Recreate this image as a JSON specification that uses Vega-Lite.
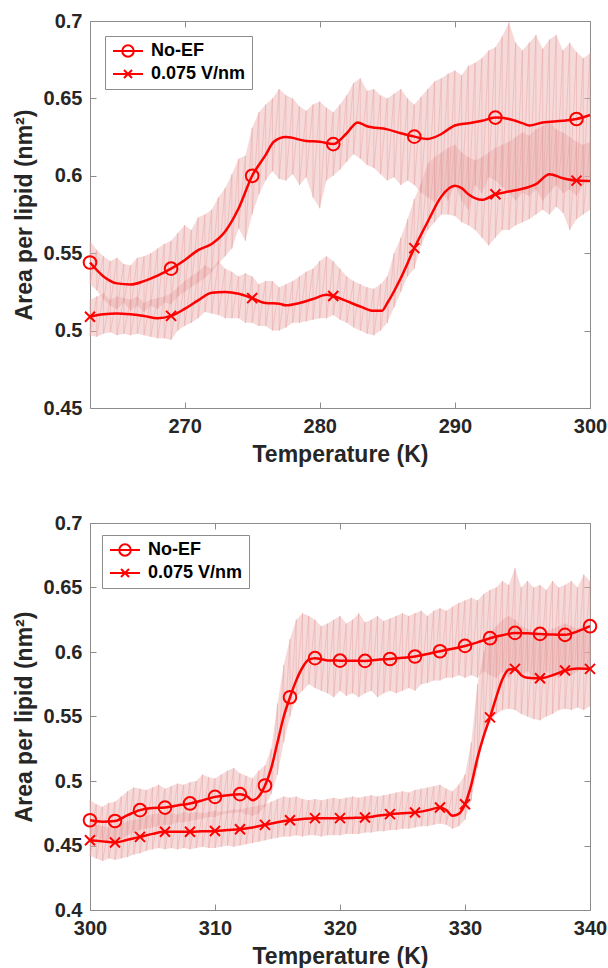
{
"$schema": "https://vega.github.io/schema/vega-lite/v6.json",
"padding": {"left": 12, "top": 10, "right": 5, "bottom": 0},
"spacing": 45,
"config": {
 "font": "Liberation Sans",
 "view": {"stroke": "#8c8c8c", "strokeWidth": 1},
 "axis": {"grid": false, "domain": false, "labelFont": "Liberation Sans", "labelFontSize": 20, "labelFontWeight": "bold", "labelColor": "#262626", "titleFont": "Liberation Sans", "titleFontSize": 23, "titleFontWeight": "bold", "titleColor": "#262626", "tickColor": "#8c8c8c", "tickSize": -6, "labelPadding": 14, "titlePadding": 7},
 "axisX": {"labelFlush": false},
 "legend": {"labelFont": "Liberation Sans", "labelFontSize": 18, "labelFontWeight": "bold", "labelColor": "#000000"}
},
"datasets": {
"noise": [
{"p":1,"s":"a","x":263,"lo":0.530,"hi":0.558},{"p":1,"s":"a","x":263.5,"lo":0.526,"hi":0.552},{"p":1,"s":"a","x":264,"lo":0.520,"hi":0.548},{"p":1,"s":"a","x":264.5,"lo":0.516,"hi":0.545},{"p":1,"s":"a","x":265,"lo":0.514,"hi":0.547},{"p":1,"s":"a","x":265.5,"lo":0.518,"hi":0.543},{"p":1,"s":"a","x":266,"lo":0.513,"hi":0.542},{"p":1,"s":"a","x":266.5,"lo":0.516,"hi":0.547},{"p":1,"s":"a","x":267,"lo":0.512,"hi":0.548},{"p":1,"s":"a","x":267.5,"lo":0.516,"hi":0.550},{"p":1,"s":"a","x":268,"lo":0.514,"hi":0.553},{"p":1,"s":"a","x":268.5,"lo":0.518,"hi":0.556},{"p":1,"s":"a","x":269,"lo":0.517,"hi":0.558},{"p":1,"s":"a","x":269.5,"lo":0.522,"hi":0.563},{"p":1,"s":"a","x":270,"lo":0.525,"hi":0.568},{"p":1,"s":"a","x":270.5,"lo":0.528,"hi":0.565},{"p":1,"s":"a","x":271,"lo":0.531,"hi":0.573},{"p":1,"s":"a","x":271.5,"lo":0.534,"hi":0.575},{"p":1,"s":"a","x":272,"lo":0.538,"hi":0.578},{"p":1,"s":"a","x":272.5,"lo":0.543,"hi":0.586},{"p":1,"s":"a","x":273,"lo":0.548,"hi":0.592},{"p":1,"s":"a","x":273.5,"lo":0.553,"hi":0.601},{"p":1,"s":"a","x":274,"lo":0.566,"hi":0.611},{"p":1,"s":"a","x":274.5,"lo":0.558,"hi":0.613},{"p":1,"s":"a","x":275,"lo":0.575,"hi":0.631},{"p":1,"s":"a","x":275.5,"lo":0.588,"hi":0.641},{"p":1,"s":"a","x":276,"lo":0.597,"hi":0.646},{"p":1,"s":"a","x":276.5,"lo":0.603,"hi":0.650},{"p":1,"s":"a","x":277,"lo":0.598,"hi":0.656},{"p":1,"s":"a","x":277.5,"lo":0.597,"hi":0.652},{"p":1,"s":"a","x":278,"lo":0.601,"hi":0.650},{"p":1,"s":"a","x":278.5,"lo":0.594,"hi":0.645},{"p":1,"s":"a","x":279,"lo":0.599,"hi":0.642},{"p":1,"s":"a","x":279.5,"lo":0.586,"hi":0.646},{"p":1,"s":"a","x":280,"lo":0.579,"hi":0.648},{"p":1,"s":"a","x":280.5,"lo":0.597,"hi":0.644},{"p":1,"s":"a","x":281,"lo":0.600,"hi":0.641},{"p":1,"s":"a","x":281.5,"lo":0.604,"hi":0.646},{"p":1,"s":"a","x":282,"lo":0.609,"hi":0.652},{"p":1,"s":"a","x":282.5,"lo":0.614,"hi":0.660},{"p":1,"s":"a","x":283,"lo":0.611,"hi":0.663},{"p":1,"s":"a","x":283.5,"lo":0.607,"hi":0.655},{"p":1,"s":"a","x":284,"lo":0.605,"hi":0.656},{"p":1,"s":"a","x":284.5,"lo":0.601,"hi":0.652},{"p":1,"s":"a","x":285,"lo":0.597,"hi":0.650},{"p":1,"s":"a","x":285.5,"lo":0.599,"hi":0.653},{"p":1,"s":"a","x":286,"lo":0.594,"hi":0.656},{"p":1,"s":"a","x":286.5,"lo":0.597,"hi":0.650},{"p":1,"s":"a","x":287,"lo":0.594,"hi":0.646},{"p":1,"s":"a","x":287.5,"lo":0.589,"hi":0.651},{"p":1,"s":"a","x":288,"lo":0.586,"hi":0.656},{"p":1,"s":"a","x":288.5,"lo":0.583,"hi":0.661},{"p":1,"s":"a","x":289,"lo":0.589,"hi":0.663},{"p":1,"s":"a","x":289.5,"lo":0.584,"hi":0.666},{"p":1,"s":"a","x":290,"lo":0.594,"hi":0.668},{"p":1,"s":"a","x":290.5,"lo":0.584,"hi":0.665},{"p":1,"s":"a","x":291,"lo":0.578,"hi":0.671},{"p":1,"s":"a","x":291.5,"lo":0.594,"hi":0.673},{"p":1,"s":"a","x":292,"lo":0.589,"hi":0.676},{"p":1,"s":"a","x":292.5,"lo":0.599,"hi":0.681},{"p":1,"s":"a","x":293,"lo":0.597,"hi":0.683},{"p":1,"s":"a","x":293.5,"lo":0.593,"hi":0.690},{"p":1,"s":"a","x":294,"lo":0.589,"hi":0.699},{"p":1,"s":"a","x":294.5,"lo":0.584,"hi":0.686},{"p":1,"s":"a","x":295,"lo":0.589,"hi":0.681},{"p":1,"s":"a","x":295.5,"lo":0.587,"hi":0.686},{"p":1,"s":"a","x":296,"lo":0.591,"hi":0.691},{"p":1,"s":"a","x":296.5,"lo":0.584,"hi":0.682},{"p":1,"s":"a","x":297,"lo":0.589,"hi":0.688},{"p":1,"s":"a","x":297.5,"lo":0.594,"hi":0.691},{"p":1,"s":"a","x":298,"lo":0.589,"hi":0.681},{"p":1,"s":"a","x":298.5,"lo":0.591,"hi":0.686},{"p":1,"s":"a","x":299,"lo":0.587,"hi":0.680},{"p":1,"s":"a","x":299.5,"lo":0.594,"hi":0.676},{"p":1,"s":"a","x":300,"lo":0.599,"hi":0.679},
{"p":1,"s":"b","x":263,"lo":0.497,"hi":0.520},{"p":1,"s":"b","x":263.5,"lo":0.496,"hi":0.522},{"p":1,"s":"b","x":264,"lo":0.498,"hi":0.524},{"p":1,"s":"b","x":264.5,"lo":0.499,"hi":0.520},{"p":1,"s":"b","x":265,"lo":0.497,"hi":0.522},{"p":1,"s":"b","x":265.5,"lo":0.498,"hi":0.521},{"p":1,"s":"b","x":266,"lo":0.497,"hi":0.520},{"p":1,"s":"b","x":266.5,"lo":0.498,"hi":0.522},{"p":1,"s":"b","x":267,"lo":0.497,"hi":0.518},{"p":1,"s":"b","x":267.5,"lo":0.496,"hi":0.520},{"p":1,"s":"b","x":268,"lo":0.495,"hi":0.521},{"p":1,"s":"b","x":268.5,"lo":0.495,"hi":0.522},{"p":1,"s":"b","x":269,"lo":0.494,"hi":0.524},{"p":1,"s":"b","x":269.5,"lo":0.500,"hi":0.528},{"p":1,"s":"b","x":270,"lo":0.503,"hi":0.532},{"p":1,"s":"b","x":270.5,"lo":0.505,"hi":0.535},{"p":1,"s":"b","x":271,"lo":0.508,"hi":0.538},{"p":1,"s":"b","x":271.5,"lo":0.512,"hi":0.542},{"p":1,"s":"b","x":272,"lo":0.511,"hi":0.540},{"p":1,"s":"b","x":272.5,"lo":0.510,"hi":0.545},{"p":1,"s":"b","x":273,"lo":0.508,"hi":0.540},{"p":1,"s":"b","x":273.5,"lo":0.508,"hi":0.538},{"p":1,"s":"b","x":274,"lo":0.508,"hi":0.535},{"p":1,"s":"b","x":274.5,"lo":0.505,"hi":0.537},{"p":1,"s":"b","x":275,"lo":0.505,"hi":0.535},{"p":1,"s":"b","x":275.5,"lo":0.503,"hi":0.530},{"p":1,"s":"b","x":276,"lo":0.503,"hi":0.532},{"p":1,"s":"b","x":276.5,"lo":0.500,"hi":0.532},{"p":1,"s":"b","x":277,"lo":0.500,"hi":0.528},{"p":1,"s":"b","x":277.5,"lo":0.502,"hi":0.530},{"p":1,"s":"b","x":278,"lo":0.505,"hi":0.532},{"p":1,"s":"b","x":278.5,"lo":0.505,"hi":0.535},{"p":1,"s":"b","x":279,"lo":0.506,"hi":0.538},{"p":1,"s":"b","x":279.5,"lo":0.507,"hi":0.540},{"p":1,"s":"b","x":280,"lo":0.508,"hi":0.545},{"p":1,"s":"b","x":280.5,"lo":0.508,"hi":0.548},{"p":1,"s":"b","x":281,"lo":0.510,"hi":0.545},{"p":1,"s":"b","x":281.5,"lo":0.507,"hi":0.540},{"p":1,"s":"b","x":282,"lo":0.505,"hi":0.535},{"p":1,"s":"b","x":282.5,"lo":0.502,"hi":0.532},{"p":1,"s":"b","x":283,"lo":0.500,"hi":0.530},{"p":1,"s":"b","x":283.5,"lo":0.498,"hi":0.528},{"p":1,"s":"b","x":284,"lo":0.497,"hi":0.527},{"p":1,"s":"b","x":284.5,"lo":0.500,"hi":0.530},{"p":1,"s":"b","x":285,"lo":0.505,"hi":0.535},{"p":1,"s":"b","x":285.5,"lo":0.515,"hi":0.550},{"p":1,"s":"b","x":286,"lo":0.525,"hi":0.560},{"p":1,"s":"b","x":286.5,"lo":0.535,"hi":0.572},{"p":1,"s":"b","x":287,"lo":0.540,"hi":0.585},{"p":1,"s":"b","x":287.5,"lo":0.555,"hi":0.595},{"p":1,"s":"b","x":288,"lo":0.565,"hi":0.608},{"p":1,"s":"b","x":288.5,"lo":0.570,"hi":0.612},{"p":1,"s":"b","x":289,"lo":0.575,"hi":0.615},{"p":1,"s":"b","x":289.5,"lo":0.575,"hi":0.618},{"p":1,"s":"b","x":290,"lo":0.574,"hi":0.620},{"p":1,"s":"b","x":290.5,"lo":0.570,"hi":0.615},{"p":1,"s":"b","x":291,"lo":0.568,"hi":0.612},{"p":1,"s":"b","x":291.5,"lo":0.565,"hi":0.610},{"p":1,"s":"b","x":292,"lo":0.560,"hi":0.612},{"p":1,"s":"b","x":292.5,"lo":0.555,"hi":0.615},{"p":1,"s":"b","x":293,"lo":0.560,"hi":0.618},{"p":1,"s":"b","x":293.5,"lo":0.565,"hi":0.620},{"p":1,"s":"b","x":294,"lo":0.565,"hi":0.622},{"p":1,"s":"b","x":294.5,"lo":0.568,"hi":0.625},{"p":1,"s":"b","x":295,"lo":0.570,"hi":0.628},{"p":1,"s":"b","x":295.5,"lo":0.572,"hi":0.626},{"p":1,"s":"b","x":296,"lo":0.575,"hi":0.630},{"p":1,"s":"b","x":296.5,"lo":0.578,"hi":0.632},{"p":1,"s":"b","x":297,"lo":0.575,"hi":0.635},{"p":1,"s":"b","x":297.5,"lo":0.580,"hi":0.630},{"p":1,"s":"b","x":298,"lo":0.576,"hi":0.628},{"p":1,"s":"b","x":298.5,"lo":0.565,"hi":0.625},{"p":1,"s":"b","x":299,"lo":0.572,"hi":0.622},{"p":1,"s":"b","x":299.5,"lo":0.575,"hi":0.620},{"p":1,"s":"b","x":300,"lo":0.578,"hi":0.622},
{"p":2,"s":"a","x":300,"lo":0.455,"hi":0.485},{"p":2,"s":"a","x":300.5,"lo":0.457,"hi":0.482},{"p":2,"s":"a","x":301,"lo":0.452,"hi":0.480},{"p":2,"s":"a","x":301.5,"lo":0.455,"hi":0.483},{"p":2,"s":"a","x":302,"lo":0.453,"hi":0.484},{"p":2,"s":"a","x":302.5,"lo":0.455,"hi":0.488},{"p":2,"s":"a","x":303,"lo":0.458,"hi":0.492},{"p":2,"s":"a","x":303.5,"lo":0.460,"hi":0.495},{"p":2,"s":"a","x":304,"lo":0.462,"hi":0.494},{"p":2,"s":"a","x":304.5,"lo":0.463,"hi":0.493},{"p":2,"s":"a","x":305,"lo":0.464,"hi":0.495},{"p":2,"s":"a","x":305.5,"lo":0.465,"hi":0.497},{"p":2,"s":"a","x":306,"lo":0.466,"hi":0.494},{"p":2,"s":"a","x":306.5,"lo":0.466,"hi":0.496},{"p":2,"s":"a","x":307,"lo":0.468,"hi":0.498},{"p":2,"s":"a","x":307.5,"lo":0.468,"hi":0.497},{"p":2,"s":"a","x":308,"lo":0.469,"hi":0.499},{"p":2,"s":"a","x":308.5,"lo":0.470,"hi":0.500},{"p":2,"s":"a","x":309,"lo":0.471,"hi":0.505},{"p":2,"s":"a","x":309.5,"lo":0.472,"hi":0.503},{"p":2,"s":"a","x":310,"lo":0.472,"hi":0.502},{"p":2,"s":"a","x":310.5,"lo":0.474,"hi":0.505},{"p":2,"s":"a","x":311,"lo":0.475,"hi":0.508},{"p":2,"s":"a","x":311.5,"lo":0.475,"hi":0.510},{"p":2,"s":"a","x":312,"lo":0.476,"hi":0.506},{"p":2,"s":"a","x":312.5,"lo":0.474,"hi":0.504},{"p":2,"s":"a","x":313,"lo":0.473,"hi":0.502},{"p":2,"s":"a","x":313.5,"lo":0.475,"hi":0.508},{"p":2,"s":"a","x":314,"lo":0.480,"hi":0.512},{"p":2,"s":"a","x":314.5,"lo":0.490,"hi":0.525},{"p":2,"s":"a","x":315,"lo":0.505,"hi":0.560},{"p":2,"s":"a","x":315.5,"lo":0.530,"hi":0.590},{"p":2,"s":"a","x":316,"lo":0.550,"hi":0.610},{"p":2,"s":"a","x":316.5,"lo":0.565,"hi":0.625},{"p":2,"s":"a","x":317,"lo":0.570,"hi":0.630},{"p":2,"s":"a","x":317.5,"lo":0.575,"hi":0.628},{"p":2,"s":"a","x":318,"lo":0.572,"hi":0.625},{"p":2,"s":"a","x":318.5,"lo":0.570,"hi":0.620},{"p":2,"s":"a","x":319,"lo":0.568,"hi":0.622},{"p":2,"s":"a","x":319.5,"lo":0.565,"hi":0.625},{"p":2,"s":"a","x":320,"lo":0.570,"hi":0.628},{"p":2,"s":"a","x":320.5,"lo":0.566,"hi":0.622},{"p":2,"s":"a","x":321,"lo":0.568,"hi":0.625},{"p":2,"s":"a","x":321.5,"lo":0.565,"hi":0.630},{"p":2,"s":"a","x":322,"lo":0.568,"hi":0.623},{"p":2,"s":"a","x":322.5,"lo":0.570,"hi":0.625},{"p":2,"s":"a","x":323,"lo":0.565,"hi":0.628},{"p":2,"s":"a","x":323.5,"lo":0.568,"hi":0.624},{"p":2,"s":"a","x":324,"lo":0.570,"hi":0.626},{"p":2,"s":"a","x":324.5,"lo":0.568,"hi":0.628},{"p":2,"s":"a","x":325,"lo":0.570,"hi":0.630},{"p":2,"s":"a","x":325.5,"lo":0.572,"hi":0.628},{"p":2,"s":"a","x":326,"lo":0.570,"hi":0.630},{"p":2,"s":"a","x":326.5,"lo":0.575,"hi":0.632},{"p":2,"s":"a","x":327,"lo":0.576,"hi":0.628},{"p":2,"s":"a","x":327.5,"lo":0.578,"hi":0.632},{"p":2,"s":"a","x":328,"lo":0.578,"hi":0.634},{"p":2,"s":"a","x":328.5,"lo":0.580,"hi":0.632},{"p":2,"s":"a","x":329,"lo":0.580,"hi":0.635},{"p":2,"s":"a","x":329.5,"lo":0.582,"hi":0.638},{"p":2,"s":"a","x":330,"lo":0.580,"hi":0.640},{"p":2,"s":"a","x":330.5,"lo":0.582,"hi":0.642},{"p":2,"s":"a","x":331,"lo":0.580,"hi":0.640},{"p":2,"s":"a","x":331.5,"lo":0.585,"hi":0.645},{"p":2,"s":"a","x":332,"lo":0.582,"hi":0.648},{"p":2,"s":"a","x":332.5,"lo":0.580,"hi":0.650},{"p":2,"s":"a","x":333,"lo":0.585,"hi":0.655},{"p":2,"s":"a","x":333.5,"lo":0.580,"hi":0.652},{"p":2,"s":"a","x":334,"lo":0.585,"hi":0.665},{"p":2,"s":"a","x":334.5,"lo":0.582,"hi":0.650},{"p":2,"s":"a","x":335,"lo":0.585,"hi":0.655},{"p":2,"s":"a","x":335.5,"lo":0.580,"hi":0.650},{"p":2,"s":"a","x":336,"lo":0.582,"hi":0.652},{"p":2,"s":"a","x":336.5,"lo":0.585,"hi":0.648},{"p":2,"s":"a","x":337,"lo":0.582,"hi":0.655},{"p":2,"s":"a","x":337.5,"lo":0.580,"hi":0.650},{"p":2,"s":"a","x":338,"lo":0.585,"hi":0.652},{"p":2,"s":"a","x":338.5,"lo":0.582,"hi":0.655},{"p":2,"s":"a","x":339,"lo":0.585,"hi":0.650},{"p":2,"s":"a","x":339.5,"lo":0.588,"hi":0.660},{"p":2,"s":"a","x":340,"lo":0.590,"hi":0.655},
{"p":2,"s":"b","x":300,"lo":0.442,"hi":0.468},{"p":2,"s":"b","x":300.5,"lo":0.440,"hi":0.466},{"p":2,"s":"b","x":301,"lo":0.438,"hi":0.465},{"p":2,"s":"b","x":301.5,"lo":0.440,"hi":0.464},{"p":2,"s":"b","x":302,"lo":0.439,"hi":0.465},{"p":2,"s":"b","x":302.5,"lo":0.440,"hi":0.467},{"p":2,"s":"b","x":303,"lo":0.441,"hi":0.469},{"p":2,"s":"b","x":303.5,"lo":0.443,"hi":0.470},{"p":2,"s":"b","x":304,"lo":0.444,"hi":0.471},{"p":2,"s":"b","x":304.5,"lo":0.446,"hi":0.473},{"p":2,"s":"b","x":305,"lo":0.447,"hi":0.474},{"p":2,"s":"b","x":305.5,"lo":0.448,"hi":0.475},{"p":2,"s":"b","x":306,"lo":0.447,"hi":0.474},{"p":2,"s":"b","x":306.5,"lo":0.448,"hi":0.475},{"p":2,"s":"b","x":307,"lo":0.447,"hi":0.474},{"p":2,"s":"b","x":307.5,"lo":0.448,"hi":0.476},{"p":2,"s":"b","x":308,"lo":0.447,"hi":0.475},{"p":2,"s":"b","x":308.5,"lo":0.448,"hi":0.476},{"p":2,"s":"b","x":309,"lo":0.449,"hi":0.475},{"p":2,"s":"b","x":309.5,"lo":0.448,"hi":0.476},{"p":2,"s":"b","x":310,"lo":0.448,"hi":0.477},{"p":2,"s":"b","x":310.5,"lo":0.449,"hi":0.476},{"p":2,"s":"b","x":311,"lo":0.450,"hi":0.477},{"p":2,"s":"b","x":311.5,"lo":0.449,"hi":0.478},{"p":2,"s":"b","x":312,"lo":0.450,"hi":0.478},{"p":2,"s":"b","x":312.5,"lo":0.451,"hi":0.479},{"p":2,"s":"b","x":313,"lo":0.452,"hi":0.480},{"p":2,"s":"b","x":313.5,"lo":0.453,"hi":0.481},{"p":2,"s":"b","x":314,"lo":0.454,"hi":0.482},{"p":2,"s":"b","x":314.5,"lo":0.455,"hi":0.484},{"p":2,"s":"b","x":315,"lo":0.456,"hi":0.486},{"p":2,"s":"b","x":315.5,"lo":0.457,"hi":0.488},{"p":2,"s":"b","x":316,"lo":0.457,"hi":0.487},{"p":2,"s":"b","x":316.5,"lo":0.458,"hi":0.488},{"p":2,"s":"b","x":317,"lo":0.457,"hi":0.486},{"p":2,"s":"b","x":317.5,"lo":0.458,"hi":0.485},{"p":2,"s":"b","x":318,"lo":0.458,"hi":0.486},{"p":2,"s":"b","x":318.5,"lo":0.457,"hi":0.485},{"p":2,"s":"b","x":319,"lo":0.458,"hi":0.486},{"p":2,"s":"b","x":319.5,"lo":0.458,"hi":0.487},{"p":2,"s":"b","x":320,"lo":0.458,"hi":0.486},{"p":2,"s":"b","x":320.5,"lo":0.459,"hi":0.487},{"p":2,"s":"b","x":321,"lo":0.459,"hi":0.488},{"p":2,"s":"b","x":321.5,"lo":0.459,"hi":0.487},{"p":2,"s":"b","x":322,"lo":0.460,"hi":0.488},{"p":2,"s":"b","x":322.5,"lo":0.460,"hi":0.489},{"p":2,"s":"b","x":323,"lo":0.461,"hi":0.488},{"p":2,"s":"b","x":323.5,"lo":0.461,"hi":0.489},{"p":2,"s":"b","x":324,"lo":0.462,"hi":0.490},{"p":2,"s":"b","x":324.5,"lo":0.462,"hi":0.491},{"p":2,"s":"b","x":325,"lo":0.463,"hi":0.492},{"p":2,"s":"b","x":325.5,"lo":0.463,"hi":0.491},{"p":2,"s":"b","x":326,"lo":0.464,"hi":0.493},{"p":2,"s":"b","x":326.5,"lo":0.465,"hi":0.494},{"p":2,"s":"b","x":327,"lo":0.465,"hi":0.495},{"p":2,"s":"b","x":327.5,"lo":0.466,"hi":0.496},{"p":2,"s":"b","x":328,"lo":0.467,"hi":0.497},{"p":2,"s":"b","x":328.5,"lo":0.466,"hi":0.494},{"p":2,"s":"b","x":329,"lo":0.463,"hi":0.492},{"p":2,"s":"b","x":329.5,"lo":0.465,"hi":0.497},{"p":2,"s":"b","x":330,"lo":0.470,"hi":0.505},{"p":2,"s":"b","x":330.5,"lo":0.485,"hi":0.530},{"p":2,"s":"b","x":331,"lo":0.510,"hi":0.575},{"p":2,"s":"b","x":331.5,"lo":0.535,"hi":0.600},{"p":2,"s":"b","x":332,"lo":0.545,"hi":0.615},{"p":2,"s":"b","x":332.5,"lo":0.552,"hi":0.620},{"p":2,"s":"b","x":333,"lo":0.555,"hi":0.625},{"p":2,"s":"b","x":333.5,"lo":0.556,"hi":0.628},{"p":2,"s":"b","x":334,"lo":0.555,"hi":0.625},{"p":2,"s":"b","x":334.5,"lo":0.552,"hi":0.620},{"p":2,"s":"b","x":335,"lo":0.550,"hi":0.618},{"p":2,"s":"b","x":335.5,"lo":0.548,"hi":0.615},{"p":2,"s":"b","x":336,"lo":0.547,"hi":0.612},{"p":2,"s":"b","x":336.5,"lo":0.550,"hi":0.615},{"p":2,"s":"b","x":337,"lo":0.552,"hi":0.618},{"p":2,"s":"b","x":337.5,"lo":0.555,"hi":0.620},{"p":2,"s":"b","x":338,"lo":0.556,"hi":0.622},{"p":2,"s":"b","x":338.5,"lo":0.555,"hi":0.620},{"p":2,"s":"b","x":339,"lo":0.557,"hi":0.618},{"p":2,"s":"b","x":339.5,"lo":0.555,"hi":0.620},{"p":2,"s":"b","x":340,"lo":0.558,"hi":0.615}
],
"line": [
{"p":1,"s":"No-EF","x":263,"y":0.544,"m":1},{"p":1,"s":"No-EF","x":264,"y":0.535},{"p":1,"s":"No-EF","x":265,"y":0.5305},{"p":1,"s":"No-EF","x":266,"y":0.5298},{"p":1,"s":"No-EF","x":267,"y":0.532},{"p":1,"s":"No-EF","x":268,"y":0.5355},{"p":1,"s":"No-EF","x":269,"y":0.540,"m":1},{"p":1,"s":"No-EF","x":270,"y":0.5455},{"p":1,"s":"No-EF","x":271,"y":0.552},{"p":1,"s":"No-EF","x":272,"y":0.556},{"p":1,"s":"No-EF","x":273,"y":0.564},{"p":1,"s":"No-EF","x":274,"y":0.579},{"p":1,"s":"No-EF","x":275,"y":0.600,"m":1},{"p":1,"s":"No-EF","x":276,"y":0.6135},{"p":1,"s":"No-EF","x":276.6,"y":0.622},{"p":1,"s":"No-EF","x":277.5,"y":0.625},{"p":1,"s":"No-EF","x":279,"y":0.6225},{"p":1,"s":"No-EF","x":280,"y":0.622},{"p":1,"s":"No-EF","x":281,"y":0.6205,"m":1},{"p":1,"s":"No-EF","x":282,"y":0.6275},{"p":1,"s":"No-EF","x":282.8,"y":0.6345},{"p":1,"s":"No-EF","x":283.5,"y":0.632},{"p":1,"s":"No-EF","x":285,"y":0.630},{"p":1,"s":"No-EF","x":286,"y":0.6275},{"p":1,"s":"No-EF","x":287,"y":0.6253,"m":1},{"p":1,"s":"No-EF","x":288,"y":0.6238},{"p":1,"s":"No-EF","x":289,"y":0.627},{"p":1,"s":"No-EF","x":290,"y":0.6325},{"p":1,"s":"No-EF","x":291,"y":0.634},{"p":1,"s":"No-EF","x":292,"y":0.6355},{"p":1,"s":"No-EF","x":293,"y":0.6376,"m":1},{"p":1,"s":"No-EF","x":294,"y":0.6367},{"p":1,"s":"No-EF","x":295,"y":0.634},{"p":1,"s":"No-EF","x":295.5,"y":0.6325},{"p":1,"s":"No-EF","x":296.5,"y":0.6345},{"p":1,"s":"No-EF","x":298,"y":0.6355},{"p":1,"s":"No-EF","x":299,"y":0.6367,"m":1},{"p":1,"s":"No-EF","x":300,"y":0.6393},
{"p":1,"s":"0.075 V/nm","x":263,"y":0.509,"m":1},{"p":1,"s":"0.075 V/nm","x":264,"y":0.5105},{"p":1,"s":"0.075 V/nm","x":265,"y":0.511},{"p":1,"s":"0.075 V/nm","x":266,"y":0.5105},{"p":1,"s":"0.075 V/nm","x":267,"y":0.5095},{"p":1,"s":"0.075 V/nm","x":268,"y":0.508},{"p":1,"s":"0.075 V/nm","x":269,"y":0.5095,"m":1},{"p":1,"s":"0.075 V/nm","x":270,"y":0.514},{"p":1,"s":"0.075 V/nm","x":271,"y":0.5195},{"p":1,"s":"0.075 V/nm","x":272,"y":0.5245},{"p":1,"s":"0.075 V/nm","x":273,"y":0.5249},{"p":1,"s":"0.075 V/nm","x":274,"y":0.5238},{"p":1,"s":"0.075 V/nm","x":275,"y":0.521,"m":1},{"p":1,"s":"0.075 V/nm","x":276,"y":0.5178},{"p":1,"s":"0.075 V/nm","x":277,"y":0.5174},{"p":1,"s":"0.075 V/nm","x":277.5,"y":0.5163},{"p":1,"s":"0.075 V/nm","x":278.5,"y":0.5178},{"p":1,"s":"0.075 V/nm","x":279.5,"y":0.5204},{"p":1,"s":"0.075 V/nm","x":280.5,"y":0.5231},{"p":1,"s":"0.075 V/nm","x":281,"y":0.5223,"m":1},{"p":1,"s":"0.075 V/nm","x":282,"y":0.519},{"p":1,"s":"0.075 V/nm","x":283,"y":0.5156},{"p":1,"s":"0.075 V/nm","x":284,"y":0.5128},{"p":1,"s":"0.075 V/nm","x":284.6,"y":0.5128},{"p":1,"s":"0.075 V/nm","x":285,"y":0.5178},{"p":1,"s":"0.075 V/nm","x":286,"y":0.534},{"p":1,"s":"0.075 V/nm","x":287,"y":0.5533,"m":1},{"p":1,"s":"0.075 V/nm","x":288,"y":0.5705},{"p":1,"s":"0.075 V/nm","x":289,"y":0.5866},{"p":1,"s":"0.075 V/nm","x":290,"y":0.5935},{"p":1,"s":"0.075 V/nm","x":290.5,"y":0.592},{"p":1,"s":"0.075 V/nm","x":291,"y":0.5881},{"p":1,"s":"0.075 V/nm","x":292,"y":0.5845},{"p":1,"s":"0.075 V/nm","x":293,"y":0.5881,"m":1},{"p":1,"s":"0.075 V/nm","x":294,"y":0.5898},{"p":1,"s":"0.075 V/nm","x":295,"y":0.5916},{"p":1,"s":"0.075 V/nm","x":296,"y":0.5946},{"p":1,"s":"0.075 V/nm","x":297,"y":0.601},{"p":1,"s":"0.075 V/nm","x":298,"y":0.5984},{"p":1,"s":"0.075 V/nm","x":299,"y":0.5969,"m":1},{"p":1,"s":"0.075 V/nm","x":300,"y":0.5967},
{"p":2,"s":"No-EF","x":300,"y":0.4696,"m":1},{"p":2,"s":"No-EF","x":301,"y":0.4685},{"p":2,"s":"No-EF","x":302,"y":0.469,"m":1},{"p":2,"s":"No-EF","x":303,"y":0.4735},{"p":2,"s":"No-EF","x":304,"y":0.4774,"m":1},{"p":2,"s":"No-EF","x":305,"y":0.479},{"p":2,"s":"No-EF","x":306,"y":0.4794,"m":1},{"p":2,"s":"No-EF","x":307,"y":0.481},{"p":2,"s":"No-EF","x":308,"y":0.4826,"m":1},{"p":2,"s":"No-EF","x":309,"y":0.485},{"p":2,"s":"No-EF","x":310,"y":0.4877,"m":1},{"p":2,"s":"No-EF","x":311,"y":0.489},{"p":2,"s":"No-EF","x":312,"y":0.4898,"m":1},{"p":2,"s":"No-EF","x":312.5,"y":0.4885},{"p":2,"s":"No-EF","x":313,"y":0.4851},{"p":2,"s":"No-EF","x":313.5,"y":0.488},{"p":2,"s":"No-EF","x":314,"y":0.4965,"m":1},{"p":2,"s":"No-EF","x":314.5,"y":0.510},{"p":2,"s":"No-EF","x":315,"y":0.530},{"p":2,"s":"No-EF","x":315.5,"y":0.550},{"p":2,"s":"No-EF","x":316,"y":0.5649,"m":1},{"p":2,"s":"No-EF","x":316.5,"y":0.578},{"p":2,"s":"No-EF","x":317,"y":0.588},{"p":2,"s":"No-EF","x":317.5,"y":0.594},{"p":2,"s":"No-EF","x":318,"y":0.5952,"m":1},{"p":2,"s":"No-EF","x":319,"y":0.5935},{"p":2,"s":"No-EF","x":320,"y":0.5933,"m":1},{"p":2,"s":"No-EF","x":321,"y":0.5932},{"p":2,"s":"No-EF","x":322,"y":0.5931,"m":1},{"p":2,"s":"No-EF","x":323,"y":0.594},{"p":2,"s":"No-EF","x":324,"y":0.5946,"m":1},{"p":2,"s":"No-EF","x":325,"y":0.5955},{"p":2,"s":"No-EF","x":326,"y":0.5965,"m":1},{"p":2,"s":"No-EF","x":327,"y":0.5985},{"p":2,"s":"No-EF","x":328,"y":0.6006,"m":1},{"p":2,"s":"No-EF","x":329,"y":0.6025},{"p":2,"s":"No-EF","x":330,"y":0.6047,"m":1},{"p":2,"s":"No-EF","x":331,"y":0.6075},{"p":2,"s":"No-EF","x":332,"y":0.6107,"m":1},{"p":2,"s":"No-EF","x":333,"y":0.613},{"p":2,"s":"No-EF","x":334,"y":0.6148,"m":1},{"p":2,"s":"No-EF","x":335,"y":0.6145},{"p":2,"s":"No-EF","x":336,"y":0.614,"m":1},{"p":2,"s":"No-EF","x":337,"y":0.6135},{"p":2,"s":"No-EF","x":338,"y":0.6133,"m":1},{"p":2,"s":"No-EF","x":339,"y":0.616},{"p":2,"s":"No-EF","x":340,"y":0.620,"m":1},
{"p":2,"s":"0.075 V/nm","x":300,"y":0.4541,"m":1},{"p":2,"s":"0.075 V/nm","x":301,"y":0.4532},{"p":2,"s":"0.075 V/nm","x":302,"y":0.4523,"m":1},{"p":2,"s":"0.075 V/nm","x":303,"y":0.4545},{"p":2,"s":"0.075 V/nm","x":304,"y":0.4567,"m":1},{"p":2,"s":"0.075 V/nm","x":305,"y":0.459},{"p":2,"s":"0.075 V/nm","x":306,"y":0.4606,"m":1},{"p":2,"s":"0.075 V/nm","x":307,"y":0.4606},{"p":2,"s":"0.075 V/nm","x":308,"y":0.4606,"m":1},{"p":2,"s":"0.075 V/nm","x":309,"y":0.461},{"p":2,"s":"0.075 V/nm","x":310,"y":0.4613,"m":1},{"p":2,"s":"0.075 V/nm","x":311,"y":0.462},{"p":2,"s":"0.075 V/nm","x":312,"y":0.4626,"m":1},{"p":2,"s":"0.075 V/nm","x":313,"y":0.464},{"p":2,"s":"0.075 V/nm","x":314,"y":0.466,"m":1},{"p":2,"s":"0.075 V/nm","x":315,"y":0.468},{"p":2,"s":"0.075 V/nm","x":316,"y":0.4696,"m":1},{"p":2,"s":"0.075 V/nm","x":317,"y":0.4706},{"p":2,"s":"0.075 V/nm","x":318,"y":0.4712,"m":1},{"p":2,"s":"0.075 V/nm","x":319,"y":0.4712},{"p":2,"s":"0.075 V/nm","x":320,"y":0.4712,"m":1},{"p":2,"s":"0.075 V/nm","x":321,"y":0.4714},{"p":2,"s":"0.075 V/nm","x":322,"y":0.4717,"m":1},{"p":2,"s":"0.075 V/nm","x":323,"y":0.473},{"p":2,"s":"0.075 V/nm","x":324,"y":0.4743,"m":1},{"p":2,"s":"0.075 V/nm","x":325,"y":0.475},{"p":2,"s":"0.075 V/nm","x":326,"y":0.4756,"m":1},{"p":2,"s":"0.075 V/nm","x":327,"y":0.4773},{"p":2,"s":"0.075 V/nm","x":328,"y":0.4794,"m":1},{"p":2,"s":"0.075 V/nm","x":328.5,"y":0.4775},{"p":2,"s":"0.075 V/nm","x":329,"y":0.473},{"p":2,"s":"0.075 V/nm","x":329.5,"y":0.4745},{"p":2,"s":"0.075 V/nm","x":330,"y":0.482,"m":1},{"p":2,"s":"0.075 V/nm","x":330.5,"y":0.497},{"p":2,"s":"0.075 V/nm","x":331,"y":0.518},{"p":2,"s":"0.075 V/nm","x":331.5,"y":0.535},{"p":2,"s":"0.075 V/nm","x":332,"y":0.5493,"m":1},{"p":2,"s":"0.075 V/nm","x":332.5,"y":0.565},{"p":2,"s":"0.075 V/nm","x":333,"y":0.579},{"p":2,"s":"0.075 V/nm","x":333.5,"y":0.5865},{"p":2,"s":"0.075 V/nm","x":334,"y":0.5869,"m":1},{"p":2,"s":"0.075 V/nm","x":334.5,"y":0.582},{"p":2,"s":"0.075 V/nm","x":335,"y":0.580},{"p":2,"s":"0.075 V/nm","x":336,"y":0.5796,"m":1},{"p":2,"s":"0.075 V/nm","x":337,"y":0.582},{"p":2,"s":"0.075 V/nm","x":338,"y":0.5856,"m":1},{"p":2,"s":"0.075 V/nm","x":339,"y":0.5872},{"p":2,"s":"0.075 V/nm","x":340,"y":0.5869,"m":1}
]
},
"vconcat": [
{
 "width": 500, "height": 387,
 "layer": [
  {"data": {"name": "noise"}, "transform": [{"filter": "datum.p==1"}],
   "mark": {"type": "area", "color": "#eaabab", "opacity": 0.45},
   "encoding": {
    "x": {"field": "x", "type": "quantitative", "scale": {"domain": [263, 300], "nice": false, "zero": false}, "axis": {"values": [270, 280, 290, 300], "format": "d", "title": "Temperature (K)"}},
    "y": {"field": "lo", "type": "quantitative", "scale": {"domain": [0.45, 0.7], "nice": false, "zero": false}, "axis": {"values": [0.45, 0.5, 0.55, 0.6, 0.65, 0.7], "format": "~g", "title": "Area per lipid (nm²)"}},
    "y2": {"field": "hi"},
    "detail": {"field": "s"}
   }},
  {"data": {"name": "noise"}, "transform": [{"filter": "datum.p==1"}, {"fold": ["hi", "lo"], "as": ["k", "v"]}],
   "mark": {"type": "line", "color": "#e59c9c", "strokeWidth": 0.7, "opacity": 0.6},
   "encoding": {
    "x": {"field": "x", "type": "quantitative", "axis": null},
    "y": {"field": "v", "type": "quantitative", "axis": null},
    "detail": {"field": "s"},
    "order": [{"field": "x", "type": "quantitative"}, {"field": "k", "type": "nominal"}]
   }},
  {"data": {"name": "line"}, "transform": [{"filter": "datum.p==1"}],
   "mark": {"type": "line", "color": "#ff0000", "strokeWidth": 2.5, "interpolate": "monotone"},
   "encoding": {
    "x": {"field": "x", "type": "quantitative", "axis": {"orient": "top", "labels": false, "title": null, "values": [270, 280, 290, 300]}},
    "y": {"field": "y", "type": "quantitative", "axis": {"orient": "right", "labels": false, "title": null, "values": [0.45, 0.5, 0.55, 0.6, 0.65, 0.7]}},
    "detail": {"field": "s"}
   }},
  {"data": {"name": "line"}, "transform": [{"filter": "datum.p==1 && datum.m==1 && datum.s=='No-EF'"}],
   "mark": {"type": "point", "shape": "circle", "filled": false, "stroke": "#ff0000", "strokeWidth": 2, "size": 160, "opacity": 1},
   "encoding": {"x": {"field": "x", "type": "quantitative", "axis": null}, "y": {"field": "y", "type": "quantitative", "axis": null}}},
  {"data": {"name": "line"}, "transform": [{"filter": "datum.p==1 && datum.m==1 && datum.s!='No-EF'"}],
   "mark": {"type": "point", "shape": "M-1,-1L1,1M-1,1L1,-1", "filled": false, "stroke": "#ff0000", "strokeWidth": 2, "size": 100, "opacity": 1},
   "encoding": {"x": {"field": "x", "type": "quantitative", "axis": null}, "y": {"field": "y", "type": "quantitative", "axis": null}}},
  {"data": {"name": "line"}, "transform": [{"filter": "datum.p==1"}],
   "mark": {"type": "point", "filled": false, "color": "#ff0000", "opacity": 0},
   "encoding": {"x": {"field": "x", "type": "quantitative", "axis": null}, "y": {"field": "y", "type": "quantitative", "axis": null},
    "shape": {"field": "s", "type": "nominal", "scale": {"domain": ["No-EF", "0.075 V/nm"], "range": ["M-3,0L3,0M-1.15,0A1.15,1.15 0 1,0 1.15,0A1.15,1.15 0 1,0 -1.15,0", "M-3,0L3,0M-0.8,-0.8L0.8,0.8M-0.8,0.8L0.8,-0.8"]},
     "legend": {"title": null, "orient": "top-left", "offset": 15, "symbolSize": 100, "symbolOffset": 8, "symbolOpacity": 1, "symbolStrokeColor": "#ff0000", "symbolFillColor": "transparent", "symbolStrokeWidth": 2, "strokeColor": "#8c8c8c", "fillColor": "#ffffff", "padding": 6, "rowPadding": 4, "labelOffset": 14}}}}
 ],
 "resolve": {"axis": {"x": "independent", "y": "independent"}}
},
{
 "width": 500, "height": 387,
 "layer": [
  {"data": {"name": "noise"}, "transform": [{"filter": "datum.p==2"}],
   "mark": {"type": "area", "color": "#eaabab", "opacity": 0.45},
   "encoding": {
    "x": {"field": "x", "type": "quantitative", "scale": {"domain": [300, 340], "nice": false, "zero": false}, "axis": {"values": [300, 310, 320, 330, 340], "format": "d", "title": "Temperature (K)"}},
    "y": {"field": "lo", "type": "quantitative", "scale": {"domain": [0.4, 0.7], "nice": false, "zero": false}, "axis": {"values": [0.4, 0.45, 0.5, 0.55, 0.6, 0.65, 0.7], "format": "~g", "title": "Area per lipid (nm²)"}},
    "y2": {"field": "hi"},
    "detail": {"field": "s"}
   }},
  {"data": {"name": "noise"}, "transform": [{"filter": "datum.p==2"}, {"fold": ["hi", "lo"], "as": ["k", "v"]}],
   "mark": {"type": "line", "color": "#e59c9c", "strokeWidth": 0.7, "opacity": 0.6},
   "encoding": {
    "x": {"field": "x", "type": "quantitative", "axis": null},
    "y": {"field": "v", "type": "quantitative", "axis": null},
    "detail": {"field": "s"},
    "order": [{"field": "x", "type": "quantitative"}, {"field": "k", "type": "nominal"}]
   }},
  {"data": {"name": "line"}, "transform": [{"filter": "datum.p==2"}],
   "mark": {"type": "line", "color": "#ff0000", "strokeWidth": 2.5, "interpolate": "monotone"},
   "encoding": {
    "x": {"field": "x", "type": "quantitative", "axis": {"orient": "top", "labels": false, "title": null, "values": [300, 310, 320, 330, 340]}},
    "y": {"field": "y", "type": "quantitative", "axis": {"orient": "right", "labels": false, "title": null, "values": [0.4, 0.45, 0.5, 0.55, 0.6, 0.65, 0.7]}},
    "detail": {"field": "s"}
   }},
  {"data": {"name": "line"}, "transform": [{"filter": "datum.p==2 && datum.m==1 && datum.s=='No-EF'"}],
   "mark": {"type": "point", "shape": "circle", "filled": false, "stroke": "#ff0000", "strokeWidth": 2, "size": 160, "opacity": 1},
   "encoding": {"x": {"field": "x", "type": "quantitative", "axis": null}, "y": {"field": "y", "type": "quantitative", "axis": null}}},
  {"data": {"name": "line"}, "transform": [{"filter": "datum.p==2 && datum.m==1 && datum.s!='No-EF'"}],
   "mark": {"type": "point", "shape": "M-1,-1L1,1M-1,1L1,-1", "filled": false, "stroke": "#ff0000", "strokeWidth": 2, "size": 100, "opacity": 1},
   "encoding": {"x": {"field": "x", "type": "quantitative", "axis": null}, "y": {"field": "y", "type": "quantitative", "axis": null}}},
  {"data": {"name": "line"}, "transform": [{"filter": "datum.p==2"}],
   "mark": {"type": "point", "filled": false, "color": "#ff0000", "opacity": 0},
   "encoding": {"x": {"field": "x", "type": "quantitative", "axis": null}, "y": {"field": "y", "type": "quantitative", "axis": null},
    "shape": {"field": "s", "type": "nominal", "scale": {"domain": ["No-EF", "0.075 V/nm"], "range": ["M-3,0L3,0M-1.15,0A1.15,1.15 0 1,0 1.15,0A1.15,1.15 0 1,0 -1.15,0", "M-3,0L3,0M-0.8,-0.8L0.8,0.8M-0.8,0.8L0.8,-0.8"]},
     "legend": {"title": null, "orient": "top-left", "offset": 12, "symbolSize": 100, "symbolOffset": 8, "symbolOpacity": 1, "symbolStrokeColor": "#ff0000", "symbolFillColor": "transparent", "symbolStrokeWidth": 2, "strokeColor": "#8c8c8c", "fillColor": "#ffffff", "padding": 6, "rowPadding": 4, "labelOffset": 14}}}}
 ],
 "resolve": {"axis": {"x": "independent", "y": "independent"}}
}
],
"resolve": {"scale": {"shape": "independent"}, "legend": {"shape": "independent"}}
}
